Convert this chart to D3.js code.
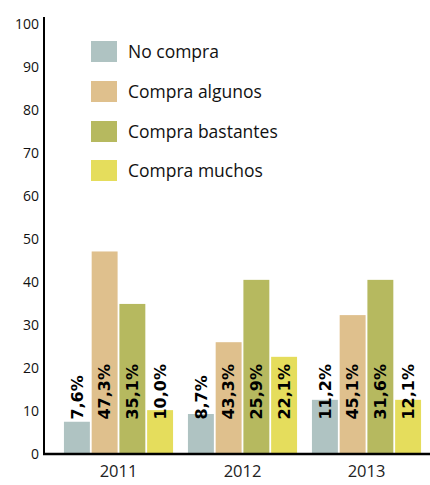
<!DOCTYPE html>
<html>
<head>
<meta charset="utf-8">
<script src="https://cdn.jsdelivr.net/npm/d3@7"></script>
<style>
  body { margin: 0; background: #fff; }
  svg { display: block; font-family: "Open Sans", sans-serif; }
</style>
</head>
<body>
<svg id="chart"></svg>
<script>
// data
const years = ['2011', '2012', '2013'];
const series = ['No compra', 'Compra algunos', 'Compra bastantes', 'Compra muchos'];
const colors = ['#afc3c2', '#dfc08d', '#b6b95f', '#e5dd5c'];
// bar heights as drawn
const noCompra = [7.5, 9.3, 12.6];
const algunos = [47.1, 26.0, 32.3];
const bastantes = [34.9, 40.5, 40.5];
const muchos = [10.2, 22.6, 12.6];
// printed labels
const labNoCompra = ['7,6%', '8,7%', '11,2%'];
const labAlgunos = ['47,3%', '43,3%', '45,1%'];
const labBastantes = ['35,1%', '25,9%', '31,6%'];
const labMuchos = ['10,0%', '22,1%', '12,1%'];
const yTicks = [0, 10, 20, 30, 40, 50, 60, 70, 80, 90, 100];

const values = [noCompra, algunos, bastantes, muchos];
const labels = [labNoCompra, labAlgunos, labBastantes, labMuchos];

const width = 430, height = 485;
const svg = d3.select('#chart').attr('width', width).attr('height', height);

const y = d3.scaleLinear().domain([0, 100]).range([454, 24]);
const x0 = d3.scaleBand().domain(years).range([56.5, 428.5]).paddingInner(0.12).paddingOuter(0.06);
const x1 = d3.scaleBand().domain(series).range([0, x0.bandwidth()]).paddingInner(0.065);

// y tick labels (no tick marks)
svg.append('g').selectAll('text')
  .data(yTicks)
  .join('text')
    .attr('x', 39)
    .attr('y', d => y(d))
    .attr('dy', '0.35em')
    .attr('text-anchor', 'end')
    .attr('font-size', 14)
    .attr('fill', '#111')
    .text(d => d);

// bars
const rows = [];
years.forEach((yr, i) => {
  series.forEach((s, j) => {
    rows.push({ year: yr, s: s, j: j, v: values[j][i], lab: labels[j][i] });
  });
});

const groups = svg.append('g');
groups.selectAll('rect')
  .data(rows)
  .join('rect')
    .attr('x', d => x0(d.year) + x1(d.s))
    .attr('y', d => y(d.v))
    .attr('width', x1.bandwidth())
    .attr('height', d => y(0) - y(d.v))
    .attr('fill', d => colors[d.j]);

// rotated value labels
groups.selectAll('text')
  .data(rows)
  .join('text')
    .attr('transform', d => `translate(${x0(d.year) + x1(d.s) + x1.bandwidth() / 2},${y(8)}) rotate(-90)`)
    .attr('dy', '0.36em')
    .attr('font-family', 'DejaVu Sans')
    .attr('font-weight', 'bold')
    .attr('font-size', 16)
    .attr('fill', '#000')
    .text(d => d.lab);

// axes lines
svg.append('line')
  .attr('x1', 44).attr('x2', 44)
  .attr('y1', 17).attr('y2', y(0) + 1)
  .attr('stroke', '#000').attr('stroke-width', 2);
svg.append('line')
  .attr('x1', 43).attr('x2', width)
  .attr('y1', y(0)).attr('y2', y(0))
  .attr('stroke', '#000').attr('stroke-width', 2.5);

// year labels
svg.append('g').selectAll('text')
  .data(years)
  .join('text')
    .attr('x', d => x0(d) + x0.bandwidth() / 2)
    .attr('y', 477)
    .attr('text-anchor', 'middle')
    .attr('font-size', 16.5)
    .attr('fill', '#222')
    .text(d => d);

// legend
const legendY = [41, 81, 121, 160];
const legend = svg.append('g').selectAll('g')
  .data(series)
  .join('g')
    .attr('transform', (d, i) => `translate(91,${legendY[i]})`);
legend.append('rect')
  .attr('width', 26).attr('height', 21)
  .attr('fill', (d, i) => colors[i]);
legend.append('text')
  .attr('x', 37)
  .attr('y', 10.5)
  .attr('dy', '0.35em')
  .attr('font-size', 17.5)
  .attr('fill', '#111')
  .text(d => d);
</script>
</body>
</html>
